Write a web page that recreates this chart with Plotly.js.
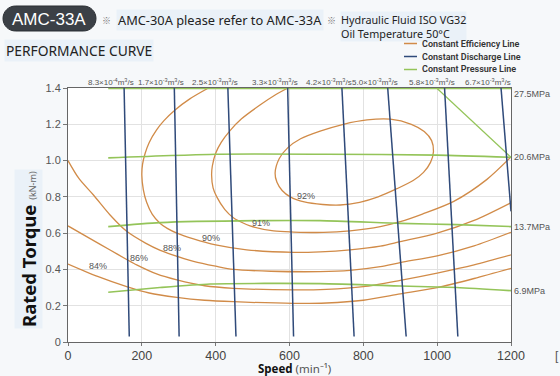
<!DOCTYPE html>
<html><head><meta charset="utf-8">
<script src="https://cdn.plot.ly/plotly-3.0.1.min.js"></script>
<style>html,body{margin:0;padding:0;background:#f6f8fa}#chart{width:560px;height:376px}</style>
</head><body><div id="chart"></div>
<script>
// ---- Constant efficiency lines (speed min^-1, torque kN-m) ----
const eff92X = [561,566,580,602,640,690,737,790,840,891,935,963,982,990,985,965,930,873,810,746,683,630,595,572,561];
const eff92Y = [0.93,0.88,0.835,0.80,0.772,0.758,0.755,0.77,0.80,0.845,0.89,0.935,0.99,1.05,1.11,1.16,1.20,1.228,1.224,1.20,1.162,1.12,1.07,1.01,0.93];
const eff91X = [593,560,520,470,439,415,400,391,389,393,403,425,448,470,493,557,611,692,764,846,900,960,1045,1134,1200];
const eff91Y = [1.397,1.36,1.306,1.23,1.165,1.10,1.04,0.97,0.92,0.85,0.80,0.73,0.685,0.66,0.64,0.612,0.606,0.604,0.613,0.636,0.663,0.705,0.775,0.895,1.02];
const eff90X = [378,330,290,260,240,220,209,202,200,204,213,228,249,270,295,340,400,484,611,683,764,846,900,1000,1100,1200];
const eff90Y = [1.397,1.34,1.279,1.22,1.169,1.10,1.04,0.98,0.92,0.84,0.77,0.705,0.655,0.625,0.60,0.568,0.535,0.508,0.494,0.497,0.508,0.528,0.553,0.60,0.67,0.768];
const eff88X = [0,30,69,114,159,210,250,281,340,400,448,550,683,764,846,900,1000,1100,1200];
const eff88Y = [1.0,0.90,0.81,0.70,0.61,0.545,0.505,0.482,0.445,0.418,0.40,0.39,0.388,0.395,0.415,0.438,0.475,0.53,0.605];
const eff86X = [0,60,114,159,186,240,295,370,448,611,700,800,900,1000,1100,1200];
const eff86Y = [0.64,0.57,0.507,0.455,0.425,0.375,0.342,0.31,0.296,0.287,0.29,0.305,0.34,0.38,0.425,0.48];
const eff84X = [0,82,159,220,295,370,448,611,700,800,900,1000,1100,1200];
const eff84Y = [0.43,0.36,0.305,0.27,0.246,0.23,0.222,0.213,0.215,0.23,0.265,0.30,0.35,0.406];
const effLabels = ['92%','91%','90%','88%','86%','84%'];

// ---- Constant discharge lines ----
const dischargeTopX = [152,288,433,595,742,866,1020,1173];
const dischargeTopY = [1.4,1.4,1.4,1.4,1.4,1.4,1.4,1.4];
const dischargeBotX = [166,301,455,611,775,916,1056,1200];
const dischargeBotY = [0.03,0.03,0.03,0.03,0.03,0.03,0.03,0.72];
const dischargeLabels = ['8.3×10<sup>-4</sup>m<sup>3</sup>/s','1.7×10<sup>-3</sup>m<sup>3</sup>/s','2.5×10<sup>-3</sup>m<sup>3</sup>/s','3.3×10<sup>-3</sup>m<sup>3</sup>/s','4.2×10<sup>-3</sup>m<sup>3</sup>/s','5.0×10<sup>-3</sup>m<sup>3</sup>/s','5.8×10<sup>-3</sup>m<sup>3</sup>/s','6.7×10<sup>-3</sup>m<sup>3</sup>/s'];

// ---- Constant pressure lines ----
const p275X = [109,1200];            const p275Y = [1.397,1.397];
const p206X = [109,400,700,1000,1200]; const p206Y = [1.015,1.035,1.035,1.03,1.018];
const p137X = [109,249,520,683,900,1053,1200]; const p137Y = [0.636,0.658,0.669,0.669,0.654,0.647,0.636];
const p69X  = [109,249,385,683,900,1053,1200]; const p69Y  = [0.274,0.30,0.32,0.322,0.309,0.30,0.283];
const limitX = [1000,1200];          const limitY = [1.397,1.018];
const pressureLabels = ['27.5MPa','20.6MPa','13.7MPa','6.9MPa'];

const xTicks = [0,200,400,600,800,1000,1200];
const yTicks = [0,0.2,0.4,0.6,0.8,1.0,1.2,1.4];
const yTickText = ['0','0.2','0.4','0.6','0.8','1.0','1.2','1.4'];

// ---- styles ----
const ORANGE = '#d18b48', BLUE = '#2f4a7a', GREEN = '#94c459';
const traces = [];
const effX = [eff92X,eff91X,eff90X,eff88X,eff86X,eff84X];
const effY = [eff92Y,eff91Y,eff90Y,eff88Y,eff86Y,eff84Y];
effX.forEach((xs,i)=>traces.push({x:xs,y:effY[i],mode:'lines',line:{color:ORANGE,width:1.3,shape:'spline',smoothing:0.8},hoverinfo:'skip',showlegend:false,name:effLabels[i]}));
const pX = [p275X,p206X,p137X,p69X], pY = [p275Y,p206Y,p137Y,p69Y];
pX.forEach((xs,i)=>traces.push({x:xs,y:pY[i],mode:'lines',line:{color:GREEN,width:1.6,shape:'spline',smoothing:0.6},hoverinfo:'skip',showlegend:false,name:pressureLabels[i]}));
traces.push({x:limitX,y:limitY,mode:'lines',line:{color:GREEN,width:1.2},hoverinfo:'skip',showlegend:false});
dischargeTopX.forEach((x0,i)=>traces.push({x:[x0,dischargeBotX[i]],y:[dischargeTopY[i],dischargeBotY[i]],mode:'lines',line:{color:BLUE,width:1.5},hoverinfo:'skip',showlegend:false}));

// pixel -> paper helpers (plot area 68..511 x 88..342)
const L=68,R=511,T=88,B=342;
const PX = p=>(p-L)/(R-L), PY = p=>(B-p)/(B-T);

const ann = [];
const grey='#555';
function pa(o){ return Object.assign({xref:'paper',yref:'paper',showarrow:false,xanchor:'center',yanchor:'middle'},o); }
dischargeTopX.forEach((x,i)=>ann.push({x:x,y:PY(81.5),xref:'x',yref:'paper',xanchor:'center',yanchor:'middle',text:dischargeLabels[i],showarrow:false,xshift:-13,font:{family:'Liberation Sans, Arial',size:8,color:grey}}));
const pLast=[p275Y,p206Y,p137Y,p69Y].map(a=>a[a.length-1]);
pressureLabels.forEach((t,i)=>ann.push({x:1200,y:pLast[i],xref:'x',yref:'y',text:t,showarrow:false,xanchor:'left',yanchor:'middle',xshift:1,yshift:i===0?-5:0,font:{family:'Liberation Sans, Arial',size:9,color:grey}}));
const effLabPos=[[644,0.805],[522,0.658],[388,0.572],[281,0.52],[193,0.463],[82,0.419]];
effLabels.forEach((t,i)=>ann.push({x:effLabPos[i][0],y:effLabPos[i][1],xref:'x',yref:'y',xanchor:'center',yanchor:'middle',text:t,showarrow:false,font:{family:'Liberation Sans, Arial',size:9,color:grey}}));

const bgc='#eaf1f8';
ann.push(pa({x:PX(49),y:PY(19),text:'AMC-33A',font:{family:'Liberation Sans, Arial',size:17,color:'#ffffff'}}));
ann.push(pa({x:PX(106),y:PY(20),text:'※',font:{family:'Noto Sans CJK JP',size:9,color:'#777'}}));
ann.push(pa({x:PX(116),y:PY(20),xanchor:'left',text:'AMC-30A please refer to AMC-33A',bgcolor:bgc,font:{family:'Noto Sans',size:12.8,color:'#222'}}));
ann.push(pa({x:PX(331),y:PY(20),text:'※',font:{family:'Noto Sans CJK JP',size:9,color:'#777'}}));
ann.push(pa({x:PX(340),y:PY(26),xanchor:'left',align:'left',text:'Hydraulic Fluid ISO VG32<br>Oil Temperature 50°C',bgcolor:bgc,borderpad:0,font:{family:'Noto Sans',size:10.8,color:'#222'}}));
ann.push(pa({x:PX(4),y:PY(50),xanchor:'left',text:'PERFORMANCE CURVE',bgcolor:bgc,font:{family:'Noto Sans',size:13.8,color:'#222'}}));
ann.push(pa({x:PX(28),y:PY(249),textangle:-90,text:'<b>Rated Torque</b> <span style="font-size:9px;color:#666">(kN-m)</span>',bgcolor:bgc,font:{family:'Noto Sans',size:18.5,color:'#111'}}));
ann.push(pa({x:PX(294),y:PY(368.5),text:'<b>Speed</b> <span style="color:#555;font-weight:normal">(min⁻¹)</span>',borderpad:0,font:{family:'Noto Sans',size:11.5,color:'#111'}}));
ann.push(pa({x:PX(557),y:PY(356),text:'[',font:{family:'Liberation Sans',size:12,color:'#555'}}));

// manual legend
const legTexts=['Constant Efficiency Line','Constant Discharge Line','Constant Pressure Line'];
const legColors=[ORANGE,BLUE,GREEN];
const legRows=[43.5,56.5,69.5];
const shapes=[];
legTexts.forEach((t,i)=>{
  shapes.push({type:'line',xref:'paper',yref:'paper',x0:PX(404),x1:PX(417),y0:PY(legRows[i]),y1:PY(legRows[i]),line:{color:legColors[i],width:1.5}});
  ann.push(pa({x:PX(421),y:PY(legRows[i]),xanchor:'left',text:t,borderpad:0,font:{family:'Roboto',size:9,weight:600,color:'#333'}}));
});
// rounded pill for model name
(function(){
  const x0=3,x1=96,y0=6,y1=31,r=12.5,k=0.5523*r;
  const P=(x,y)=>PX(x).toFixed(5)+','+PY(y).toFixed(5);
  const path='M'+P(x0+r,y0)+' L'+P(x1-r,y0)+' C'+P(x1-r+k,y0)+' '+P(x1,y0+r-k)+' '+P(x1,y0+r)+
    ' C'+P(x1,y0+r+k)+' '+P(x1-r+k,y1)+' '+P(x1-r,y1)+' L'+P(x0+r,y1)+' C'+P(x0+r-k,y1)+' '+P(x0,y0+r+k)+' '+P(x0,y0+r)+
    ' C'+P(x0,y0+r-k)+' '+P(x0+r-k,y0)+' '+P(x0+r,y0)+' Z';
  shapes.push({type:'path',xref:'paper',yref:'paper',path:path,fillcolor:'#3b4046',line:{color:'#2a2e33',width:1},layer:'below'});
})();

const layout={
  width:560,height:376,
  margin:{l:L,r:560-R,t:T,b:376-B,pad:0},
  paper_bgcolor:'#f6f8fa',plot_bgcolor:'#ffffff',
  showlegend:false,
  xaxis:{range:[0,1200],tickvals:xTicks,ticktext:xTicks.map(String),showgrid:true,gridcolor:'#e2e2e2',gridwidth:1,zeroline:false,
    showline:true,linecolor:'#666',linewidth:1,mirror:true,ticks:'outside',ticklen:3,tickcolor:'#777',ticklabelstandoff:-1,
    tickfont:{family:'Liberation Sans, Arial',size:12.5,color:'#444'}},
  yaxis:{range:[0,1.4],tickvals:yTicks,ticktext:yTickText,showgrid:true,gridcolor:'#e2e2e2',gridwidth:1,zeroline:false,
    showline:true,linecolor:'#666',linewidth:1,mirror:true,ticks:'outside',ticklen:4,tickcolor:'#777',
    tickfont:{family:'Liberation Sans, Arial',size:11,color:'#555'}},
  annotations:ann,shapes:shapes
};
Plotly.newPlot('chart',traces,layout,{displayModeBar:false,staticPlot:true});
</script></body></html>
